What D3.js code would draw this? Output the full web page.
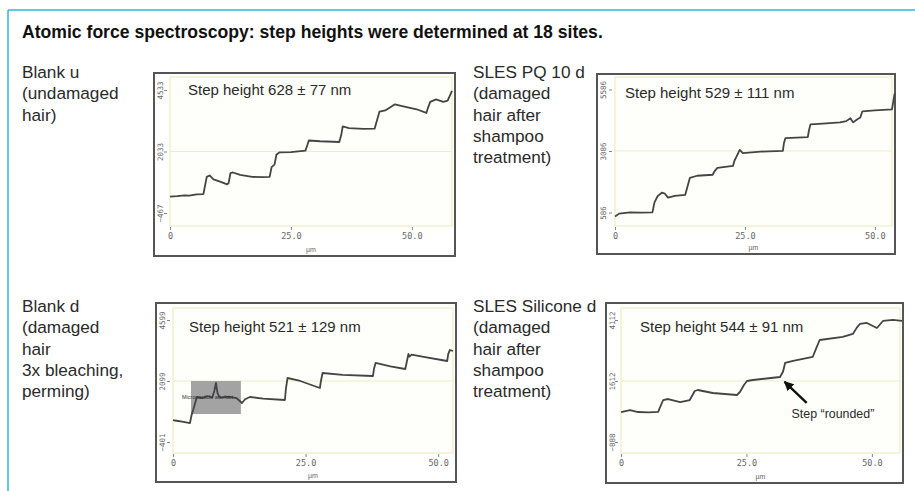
<!DOCTYPE html>
<html>
<head>
<meta charset="utf-8">
<script src="https://cdn.jsdelivr.net/npm/d3@7"></script>
<style>
  html, body { margin: 0; padding: 0; background: #ffffff; }
  svg { display: block; }
</style>
</head>
<body>
<svg id="chart" width="915" height="491"></svg>
<script>
// ---------------- data ----------------
const titleText = "Atomic force spectroscopy: step heights were determined at 18 sites.";

const sampleLabels = [
  ["Blank u", "(undamaged", "hair)"],
  ["SLES PQ 10 d", "(damaged", "hair after", "shampoo", "treatment)"],
  ["Blank d", "(damaged", "hair", "3x bleaching,", "perming)"],
  ["SLES Silicone d", "(damaged", "hair after", "shampoo", "treatment)"]
];

const stepHeights = ["Step height 628 ± 77 nm", "Step height 529 ± 111 nm",
                     "Step height 521 ± 129 nm", "Step height 544 ± 91 nm"];

const yTickValues = [
  [-467, 2033, 4533],
  [586, 3086, 5586],
  [-401, 2099, 4599],
  [-888, 1612, 4112]
];

const xTickValues = [0, 25, 50];
const xTickLabels = ["0", "25.0", "50.0"];
const xUnit = "µm";
const xMax = [58.3, 53.3, 52.8, 55.6];

// profiles: [position µm, height nm]
const profileBlankU = [
  [0, 200], [1.5, 220], [3, 250], [4, 240], [5.5, 290], [6.9, 300], [7.3, 700], [7.6, 1000],
  [8.2, 1060], [9, 900], [10.5, 800], [11.8, 700], [12.1, 740], [12.5, 1150], [13, 1180],
  [14.5, 1080], [17, 1000], [19, 990], [20.6, 1000], [21, 1400], [21.6, 1500], [22, 1900],
  [22.6, 2000], [25, 2010], [28, 2070], [28.4, 2300], [28.7, 2480], [31, 2450], [35, 2420],
  [35.4, 2700], [35.7, 3050], [37, 2980], [40, 2950], [42.3, 2960], [42.8, 3300], [43.3, 3650],
  [44.5, 3700], [46.5, 3950], [48, 3880], [51, 3750], [53, 3600], [53.4, 3850], [53.8, 4050],
  [55, 4150], [56.5, 4050], [57.4, 4100], [58.3, 4500]
];

const profilePQ10 = [
  [0, 420], [0.8, 540], [2.9, 590], [5, 580], [7.2, 590], [7.6, 1000], [8.2, 1250], [9.0, 1390],
  [9.6, 1350], [10.2, 1190], [11.5, 1260], [13.5, 1300], [13.9, 1600], [14.4, 1990], [15.8, 2080],
  [18.8, 2120], [19.1, 2250], [19.7, 2400], [22.7, 2480], [23, 2700], [23.4, 2870], [24.0, 3130],
  [24.6, 3000], [28, 3060], [32.3, 3090], [32.5, 3400], [32.8, 3610], [37.1, 3650], [37.3, 3900],
  [37.6, 4170], [40, 4200], [43.3, 4250], [44.5, 4300], [45.3, 4420], [45.8, 4250], [46.5, 4360],
  [47.2, 4450], [47.6, 4700], [50, 4740], [53.3, 4780], [53.8, 5420]
];

const profileBlankD = [
  [0, 500], [0.4, 480], [2, 420], [3.2, 377], [3.5, 700], [3.8, 910], [4.5, 1443], [5.5, 1400],
  [6.5, 1480], [7.4, 1420], [7.8, 1700], [8.1, 2017], [8.4, 1600], [8.8, 1420], [10.5, 1460],
  [12, 1400], [13, 1197], [13.6, 1350], [14.5, 1443], [17, 1380], [21.1, 1320], [21.3, 1800],
  [21.6, 2222], [24, 2100], [27.7, 1812], [27.9, 2100], [28.2, 2427], [32, 2350], [37.7, 2304],
  [37.9, 2600], [38.2, 2837], [41, 2700], [43.8, 2591], [44.1, 2900], [44.4, 3206], [44.6, 3100],
  [45, 3180], [47, 3100], [51.7, 2919], [51.9, 3200], [52.2, 3370], [52.8, 3329]
];

const profileSilicone = [
  [0, 340], [1.8, 423], [3.4, 341], [5.5, 330], [7.4, 350], [8.4, 833], [9.4, 874], [11.8, 751],
  [13.7, 833], [14.7, 1202], [15.3, 1243], [18.3, 1120], [23.1, 1038], [23.7, 1161], [24.5, 1450],
  [25.1, 1612], [26.3, 1653], [31.7, 1776], [32.3, 2000], [32.7, 2350], [34.3, 2432], [38.2, 2596],
  [39.0, 3000], [39.6, 3293], [44.2, 3416], [46.2, 3539], [47.0, 3800], [47.6, 3949], [49.0, 3990],
  [51.0, 3785], [52.2, 4072], [54.2, 4113], [56.0, 4072]
];

const profiles = [profileBlankU, profilePQ10, profileBlankD, profileSilicone];

// annotation (panel 3): artefact box in data units, label
const artefactBox = { x0: 3.4, x1: 12.8, y0: 746, y1: 2099 };
const artefactText = "Microparticle artefact";
// annotation (panel 4): arrow from text to rounded step
const roundedArrow = { fromX: 37.0, fromY: 720, toX: 32.6, toY: 1580 };
const roundedText = "Step \u201Crounded\u201D";

// ---------------- layout ----------------
const layout = [
  { box: [154, 73, 455, 256], x0: 170, xR: 452, yMid: 151.5, tickGap: 61.5, yTop: 77, yBot: 226, label: [22, 78], text: [188, 95] },
  { box: [597, 74, 895, 254], x0: 615, xR: 892, yMid: 151, tickGap: 61.5, yTop: 77, yBot: 226, label: [473, 78], text: [625, 98] },
  { box: [156, 303, 456, 482], x0: 173, xR: 453, yMid: 381, tickGap: 61, yTop: 308, yBot: 453, label: [22, 312], text: [189, 332] },
  { box: [606, 303, 903, 483], x0: 621, xR: 900, yMid: 381, tickGap: 61, yTop: 308, yBot: 453, label: [473, 312], text: [640, 332] }
];

const svg = d3.select("#chart");
const FONT = "'Liberation Sans', Arial, Helvetica, sans-serif";
const MONO = "'DejaVu Sans Mono', 'Liberation Mono', monospace";

svg.append("defs").append("marker")
  .attr("id", "arrowHead").attr("viewBox", "0 0 10 10")
  .attr("refX", 9).attr("refY", 5).attr("markerWidth", 4).attr("markerHeight", 4)
  .attr("orient", "auto")
  .append("path").attr("d", "M0,0 L10,5 L0,10 Z").attr("fill", "#111");

// outer frame (top & left)
svg.append("line").attr("x1", 8).attr("y1", 10).attr("x2", 915).attr("y2", 10)
  .attr("stroke", "#33b2e4").attr("stroke-width", 1.5);
svg.append("line").attr("x1", 8).attr("y1", 10).attr("x2", 8).attr("y2", 491)
  .attr("stroke", "#33b2e4").attr("stroke-width", 1.5);

// title
svg.append("text").attr("x", 22).attr("y", 38)
  .attr("font-family", FONT).attr("font-weight", "bold").attr("font-size", 17.6)
  .attr("fill", "#111").text(titleText);

layout.forEach((L, i) => {
  const [bx0, by0, bx1, by1] = L.box;
  const g = svg.append("g");

  // sample label
  const lab = g.append("text").attr("font-family", FONT).attr("font-size", 17.2).attr("fill", "#2a2a2a");
  sampleLabels[i].forEach((s, k) => {
    lab.append("tspan").attr("x", L.label[0]).attr("y", L.label[1] + k * 21.3).text(s);
  });

  // scales
  const x = d3.scaleLinear().domain([0, xMax[i]]).range([L.x0, L.xR]);
  const yt = yTickValues[i];
  const y = d3.scaleLinear().domain([yt[0], yt[2]]).range([L.yMid + L.tickGap, L.yMid - L.tickGap]);

  // panel box
  g.append("rect").attr("x", bx0).attr("y", by0).attr("width", bx1 - bx0).attr("height", by1 - by0)
    .attr("fill", "#ffffff").attr("stroke", "#555").attr("stroke-width", 2);

  // yellow plot frame & midline
  const yel = "#ecedc4";
  g.append("rect").attr("x", L.x0).attr("y", L.yTop).attr("width", L.xR - L.x0).attr("height", L.yBot - L.yTop)
    .attr("fill", "#fefefa").attr("stroke", yel).attr("stroke-width", 1.2);
  g.append("line").attr("x1", L.x0).attr("x2", L.xR).attr("y1", y(yt[1])).attr("y2", y(yt[1]))
    .attr("stroke", yel).attr("stroke-width", 1.2);

  // y axis (ticks + rotated labels)
  const yAxis = d3.axisLeft(y).tickValues(yt).tickSize(3).tickPadding(2).tickFormat(d3.format("d"));
  const ya = g.append("g").attr("transform", `translate(${L.x0 - 3},0)`).call(yAxis);
  ya.select(".domain").remove();
  ya.selectAll(".tick line").attr("stroke", "#888");
  ya.selectAll(".tick text")
    .attr("font-family", MONO).attr("font-size", 7.5).attr("fill", "#666")
    .attr("x", 0).attr("dy", null)
    .attr("text-anchor", "middle")
    .attr("transform", function () { return `translate(${bx0 + 6 - (L.x0 - 3)},0) rotate(-90)`; })
    .attr("y", 0).attr("dy", "0.35em");

  // x axis
  const xAxis = d3.axisBottom(x).tickValues(xTickValues).tickSize(3).tickPadding(3)
    .tickFormat((d, k) => xTickLabels[k]);
  const xa = g.append("g").attr("transform", `translate(0,${L.yBot + 1})`).call(xAxis);
  xa.select(".domain").remove();
  xa.selectAll(".tick line").attr("stroke", "#888");
  xa.selectAll(".tick text").attr("font-family", MONO).attr("font-size", 8.5).attr("fill", "#666");
  g.append("text").attr("x", (L.x0 + L.xR) / 2).attr("y", by1 - 4)
    .attr("text-anchor", "middle").attr("font-family", FONT).attr("font-size", 7).attr("fill", "#666")
    .text(xUnit);

  // artefact box (panel 3)
  if (i === 2) {
    g.append("rect")
      .attr("x", x(artefactBox.x0)).attr("y", y(artefactBox.y1))
      .attr("width", x(artefactBox.x1) - x(artefactBox.x0))
      .attr("height", y(artefactBox.y0) - y(artefactBox.y1))
      .attr("fill", "#a3a3a3");
  }

  // profile line
  const line = d3.line().x(d => x(d[0])).y(d => y(d[1]));
  g.append("path").datum(profiles[i]).attr("d", line)
    .attr("fill", "none").attr("stroke", "#444").attr("stroke-width", 1.8)
    .attr("stroke-linejoin", "round");

  if (i === 2) {
    g.append("text").attr("x", x(artefactBox.x0) - 9).attr("y", y(1443) + 2)
      .attr("font-family", FONT).attr("font-size", 5.5).attr("fill", "#333")
      .text(artefactText);
  }

  // step height text
  g.append("text").attr("x", L.text[0]).attr("y", L.text[1])
    .attr("font-family", FONT).attr("font-size", 15).attr("fill", "#2a2a2a")
    .text(stepHeights[i]);

  // arrow annotation (panel 4)
  if (i === 3) {
    g.append("line")
      .attr("x1", x(roundedArrow.fromX)).attr("y1", y(roundedArrow.fromY))
      .attr("x2", x(roundedArrow.toX)).attr("y2", y(roundedArrow.toY))
      .attr("stroke", "#111").attr("stroke-width", 2.4).attr("marker-end", "url(#arrowHead)");
    g.append("text").attr("x", x(34.0)).attr("y", y(95))
      .attr("font-family", FONT).attr("font-size", 12.4).attr("fill", "#2a2a2a")
      .text(roundedText);
  }
});
</script>
</body>
</html>
